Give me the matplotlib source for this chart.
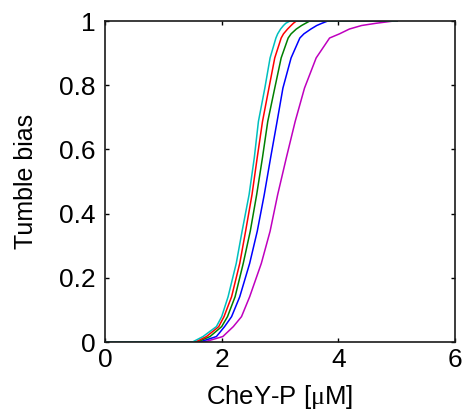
import matplotlib
matplotlib.use("Agg")
import matplotlib.pyplot as plt

plt.rcParams['font.family'] = ['Liberation Sans', 'DejaVu Sans']
plt.rcParams['mathtext.fontset'] = 'custom'
plt.rcParams['mathtext.rm'] = 'Liberation Serif'

# Tumble bias levels (shared y values) and CheY-P concentrations
bias = [0.0, 0.0, 0.017, 0.048, 0.079, 0.141, 0.245, 0.345, 0.459, 0.575,
        0.687, 0.791, 0.885, 0.947, 0.96, 0.975, 0.986, 0.993, 1.0, 1.0]
cyan_x = [0.0, 1.50, 1.68, 1.91, 2.00, 2.11, 2.25, 2.35, 2.47, 2.56,
          2.63, 2.74, 2.83, 2.93, 2.96, 3.01, 3.06, 3.10, 3.17, 5.0]
red_x = [0.0, 1.55, 1.74, 1.95, 2.04, 2.17, 2.31, 2.41, 2.52, 2.61,
         2.70, 2.81, 2.91, 3.02, 3.06, 3.13, 3.19, 3.23, 3.28, 5.0]
green_x = [0.0, 1.58, 1.80, 2.00, 2.10, 2.23, 2.37, 2.49, 2.60, 2.70,
           2.79, 2.91, 3.02, 3.14, 3.19, 3.28, 3.37, 3.44, 3.51, 5.0]
blue_x = [0.0, 1.62, 1.91, 2.05, 2.17, 2.31, 2.48, 2.61, 2.73, 2.84,
          2.95, 3.05, 3.19, 3.34, 3.41, 3.53, 3.63, 3.72, 3.82, 5.0]
magenta_x = [0.0, 1.70, 2.02, 2.20, 2.34, 2.48, 2.68, 2.83, 2.96, 3.11,
             3.26, 3.42, 3.62, 3.85, 4.02, 4.19, 4.40, 4.65, 4.95, 5.0]

series = [
    (magenta_x, (0.75, 0.0, 0.75)),
    (blue_x, (0.0, 0.0, 1.0)),
    (green_x, (0.0, 0.5, 0.0)),
    (red_x, (1.0, 0.0, 0.0)),
    (cyan_x, (0.0, 0.75, 0.75)),
]

xticks = [0, 2, 4, 6]
xticklabels = ['0', '2', '4', '6']
yticks = [0, 0.2, 0.4, 0.6, 0.8, 1.0]
yticklabels = ['0', '0.2', '0.4', '0.6', '0.8', '1']

fig = plt.figure(figsize=(4.63, 4.19), dpi=100)
ax = fig.add_axes([105/463, 1 - 342/419, 350/463, 321/419])

for xs, col in series:
    ax.plot(xs, bias, color=col, lw=1.1)

ax.set_xlim(0, 6)
ax.set_ylim(0, 1)
ax.set_xticks(xticks)
ax.set_xticklabels(xticklabels)
ax.set_yticks(yticks)
ax.set_yticklabels(yticklabels)
ax.tick_params(direction='in', length=3, width=1, labelsize=19,
               top=True, right=True)
ax.tick_params(axis='x', pad=4)
ax.tick_params(axis='y', pad=7)
for sp in ax.spines.values():
    sp.set_linewidth(1.2)
    sp.set_color('#1a1a1a')

ax.set_xlabel(r'CheY-P [$\mathrm{\mu}$M]', fontsize=18.5, labelpad=8)
ax.set_ylabel('Tumble bias', fontsize=18, labelpad=15)

fig.savefig('out.png', dpi=100)
